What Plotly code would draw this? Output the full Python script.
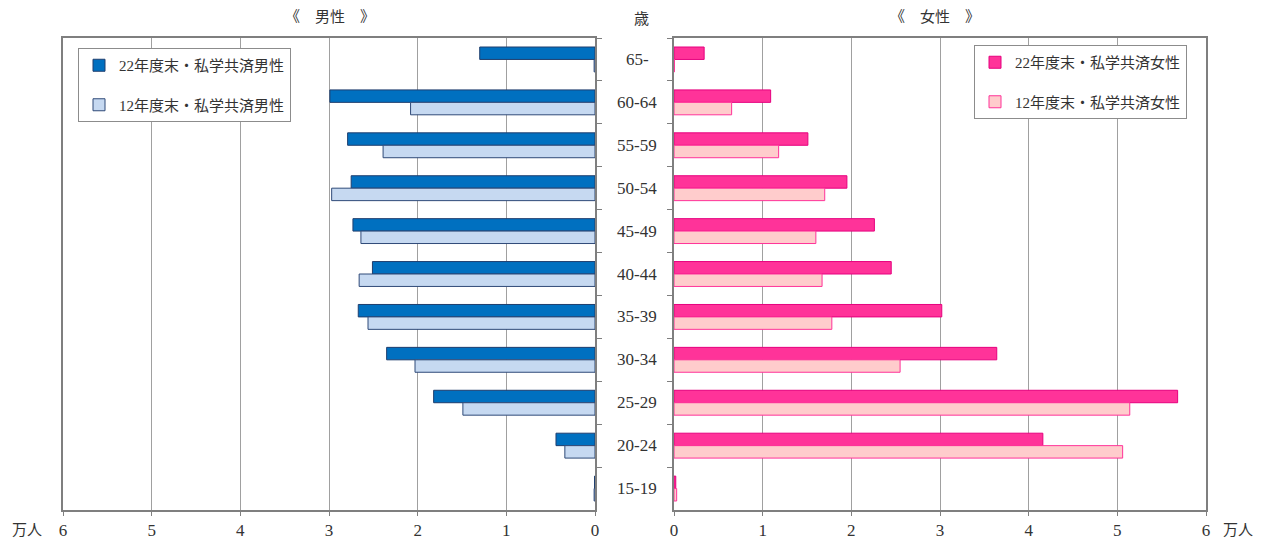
import plotly.graph_objects as go

categories = ["65-", "60-64", "55-59", "50-54", "45-49", "40-44", "35-39", "30-34", "25-29", "20-24", "15-19"]
male_22 = [1.30, 2.99, 2.79, 2.75, 2.73, 2.51, 2.67, 2.35, 1.82, 0.44, 0.005]
male_12 = [0.01, 2.08, 2.39, 2.97, 2.64, 2.66, 2.56, 2.03, 1.49, 0.34, 0.01]
female_22 = [0.34, 1.09, 1.51, 1.95, 2.26, 2.45, 3.02, 3.64, 5.68, 4.16, 0.02]
female_12 = [0.005, 0.65, 1.18, 1.70, 1.60, 1.67, 1.78, 2.55, 5.14, 5.06, 0.03]
tick_vals = [0, 1, 2, 3, 4, 5, 6]
tick_text = ["0", "1", "2", "3", "4", "5", "6"]

# page body has an 8px margin; work in screen pixels and convert
OFF = 8
W, H = 1264 - OFF, 547 - OFF


def px(x):
    return (x - OFF) / W


def py(y):
    return 1 - (y - OFF) / H


FONT = "Liberation Serif, Noto Sans CJK JP, serif"
TXT = "#333333"

fig = go.Figure()
fig.add_trace(go.Bar(y=categories, x=male_22, orientation="h", name="22年度末・私学共済男性",
                     marker=dict(color="#0070C0", line=dict(color="#1F3E6E", width=1)),
                     xaxis="x", yaxis="y", legend="legend", legendgroup="m22"))
fig.add_trace(go.Bar(y=categories, x=male_12, orientation="h", name="12年度末・私学共済男性",
                     marker=dict(color="#C6D9F1", line=dict(color="#2F4A78", width=1)),
                     xaxis="x", yaxis="y", legend="legend", legendgroup="m12"))
fig.add_trace(go.Bar(y=categories, x=female_22, orientation="h", name="22年度末・私学共済女性",
                     marker=dict(color="#FF3399", line=dict(color="#E6007E", width=1)),
                     xaxis="x2", yaxis="y2", legend="legend2", legendgroup="f22"))
fig.add_trace(go.Bar(y=categories, x=female_12, orientation="h", name="12年度末・私学共済女性",
                     marker=dict(color="#FFCCCC", line=dict(color="#FF3399", width=1)),
                     xaxis="x2", yaxis="y2", legend="legend2", legendgroup="f12"))

ytop = py(38)
ybot = py(510)
xl = [px(63), px(595)]
xr = [px(674), px(1206)]

axis_common = dict(tickvals=tick_vals, ticktext=tick_text, showgrid=True,
                   gridcolor="#A0A0A0", gridwidth=1, zeroline=False, showline=True,
                   linecolor="#7F7F7F", linewidth=1.5, mirror=True, ticks="outside",
                   ticklen=4, tickcolor="#7F7F7F", tickfont=dict(size=17, color=TXT, family=FONT),
                   fixedrange=True, automargin=False)

yaxis_common = dict(domain=[ybot, ytop], autorange="reversed", type="category",
                    showticklabels=False, ticks="outside", tickson="boundaries", ticklen=5,
                    tickcolor="#7F7F7F", showline=True, linecolor="#7F7F7F", linewidth=1.5, mirror=True,
                    showgrid=False, fixedrange=True, automargin=False)

legend_common = dict(xanchor="left", yanchor="top", bgcolor="white",
                     bordercolor="#8C8C8C", borderwidth=1,
                     font=dict(size=15, color=TXT, family=FONT),
                     tracegroupgap=17, itemwidth=30)

fig.update_layout(
    width=W, height=H, margin=dict(l=0, r=0, t=0, b=0, autoexpand=False),
    paper_bgcolor="white", plot_bgcolor="white",
    font=dict(family=FONT, color=TXT),
    barmode="group", bargap=0.42, bargroupgap=0.0,
    xaxis=dict(domain=xl, anchor="y", range=[6, 0], **axis_common),
    xaxis2=dict(domain=xr, anchor="y2", range=[0, 6], **axis_common),
    yaxis=dict(anchor="x", side="right", **yaxis_common),
    yaxis2=dict(anchor="x2", side="left", **yaxis_common),
    legend=dict(x=px(78), y=py(48), **legend_common),
    legend2=dict(x=px(974), y=py(45), **legend_common),
    showlegend=True,
)

annotations = []
for c in categories:
    annotations.append(dict(x=px(637), xref="paper", y=c, yref="y", text=c, showarrow=False,
                            font=dict(size=17, color=TXT, family=FONT), xanchor="center", yanchor="middle"))


def label(x, y, text, size=15):
    return dict(x=px(x), y=py(y), xref="paper", yref="paper", text=text, showarrow=False,
                xanchor="center", yanchor="middle", font=dict(size=size, color=TXT, family=FONT))


annotations += [
    label(330, 17, "《　男性　》"),
    label(935, 17, "《　女性　》"),
    label(641, 19, "歳"),
    label(27, 530, "万人"),
    label(1238, 530, "万人"),
]
fig.update_layout(annotations=annotations)

fig.write_html("out.html")
